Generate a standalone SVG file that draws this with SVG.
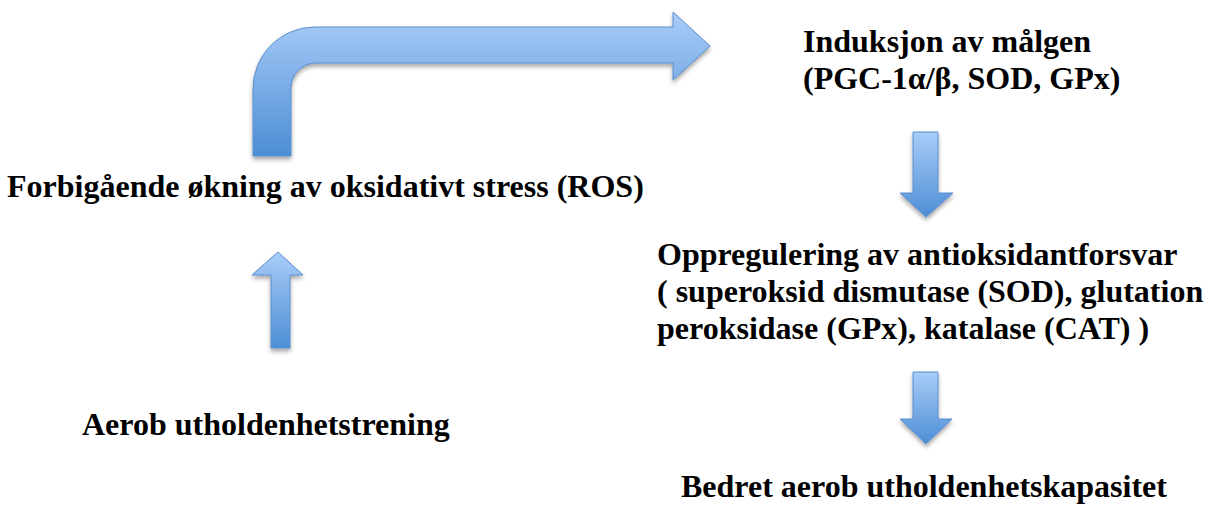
<svg xmlns="http://www.w3.org/2000/svg" width="1207" height="513" viewBox="0 0 1207 513">
<defs>
<linearGradient id="g" x1="0" y1="0" x2="0" y2="1">
<stop offset="0" stop-color="#a9cdf9"/>
<stop offset="1" stop-color="#4d8ed5"/>
</linearGradient>
<filter id="sh" x="-20%" y="-20%" width="140%" height="150%">
<feDropShadow dx="0" dy="3" stdDeviation="2" flood-color="#000" flood-opacity="0.35"/>
</filter>
<style>
.arr{fill:url(#g);stroke:#5b8ecf;stroke-width:1;filter:url(#sh)}
.t{font-family:"Liberation Serif","Times New Roman",serif;font-weight:bold;font-size:32px;fill:#000}
</style>
</defs>
<rect width="1207" height="513" fill="#fff"/>
<g id="connectors">
<path class="arr" d="M253,156 L253,89 A62,62 0 0 1 315,27 L673,27 L673,12 L710,46 L673,80 L673,63 L316,63 A25,25 0 0 0 291,88 L291,156 Z"/>
<path class="arr" d="M271,348 L271,275 L252,275 L278,252 L303,275 L290,275 L290,348 Z"/>
<path class="arr" d="M913,132 L938,132 L938,193 L953,193 L926,217 L900,193 L913,193 Z"/>
<path class="arr" d="M913,372 L938,372 L938,419 L952,419 L926,444 L900,419 L913,419 Z"/>
</g>
<g id="node-ros"><text class="t" x="7" y="197">Forbigående økning av oksidativt stress (ROS)</text></g>
<g id="node-induksjon"><text class="t" x="803" y="52">Induksjon av målgen</text><text class="t" x="803" y="89">(PGC-1α/β, SOD, GPx)</text></g>
<g id="node-oppregulering"><text class="t" x="657" y="265">Oppregulering av antioksidantforsvar</text><text class="t" x="657" y="302">( superoksid dismutase (SOD), glutation</text><text class="t" x="657" y="339">peroksidase (GPx), katalase (CAT) )</text></g>
<g id="node-aerob"><text class="t" x="82" y="435">Aerob utholdenhetstrening</text></g>
<g id="node-bedret"><text class="t" x="924" y="497" text-anchor="middle">Bedret aerob utholdenhetskapasitet</text></g>
</svg>
